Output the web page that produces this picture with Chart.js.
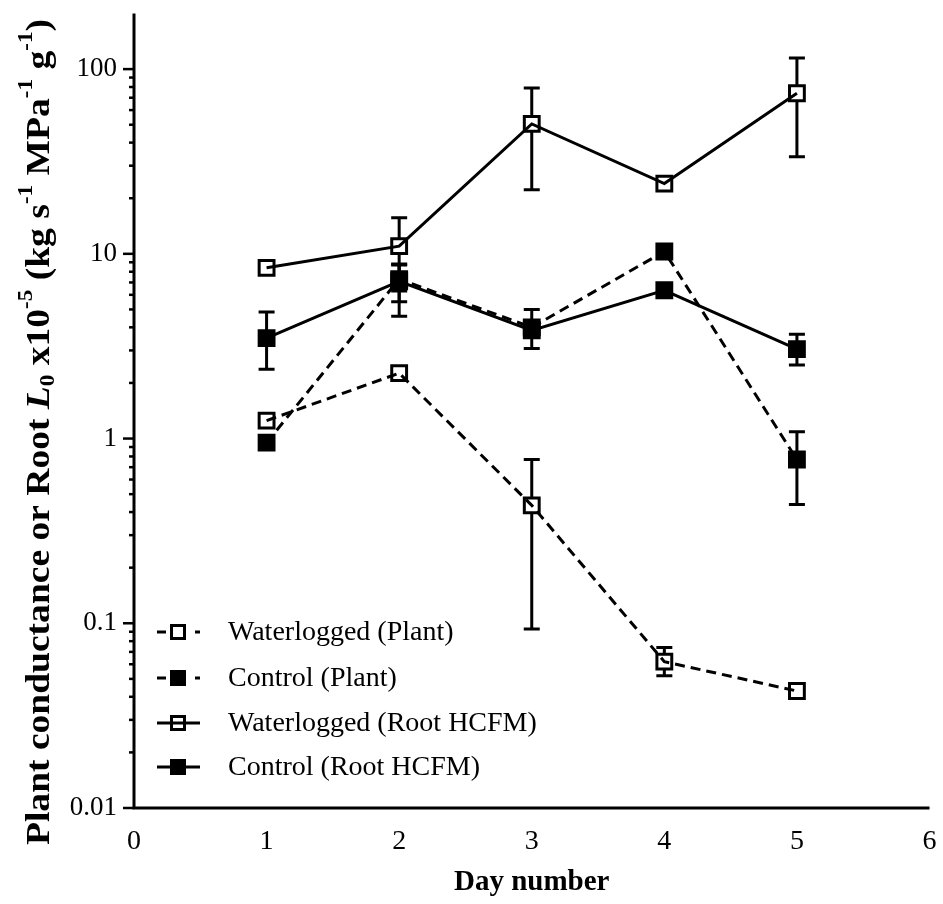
<!doctype html>
<html lang="en">
<head>
<meta charset="utf-8">
<title>Plant and root conductance</title>
<script src="https://cdn.jsdelivr.net/npm/chart.js@4.4.0/dist/chart.umd.min.js"></script>
<style>
  html, body { margin: 0; padding: 0; background: #fff; }
</style>
</head>
<body>
<canvas id="canvas" width="943" height="904"></canvas>
<script>
// days and axis ticks
var days = [1, 2, 3, 4, 5];
var xTicks = [0, 1, 2, 3, 4, 5, 6];
var yDecades = [0.01, 0.1, 1, 10, 100];

// Waterlogged (Plant)
var wlPlant   = [1.25, 2.26, 0.435, 0.062, 0.043];
var wlPlantLo = [null, null, 0.093, 0.052, null];
var wlPlantHi = [null, null, 0.77, 0.074, null];

// Control (Plant)
var ctPlant   = [0.95, 7.3, 4.0, 10.3, 0.77];
var ctPlantLo = [null, 4.6, null, null, 0.44];
var ctPlantHi = [null, 8.8, null, null, 1.09];

// Waterlogged (Root HCFM)
var wlRoot   = [8.4, 11.0, 50.5, 24.0, 74];
var wlRootLo = [null, 6.3, 22.2, null, 33.5];
var wlRootHi = [null, 15.7, 79, null, 115];

// Control (Root HCFM)
var ctRoot   = [3.5, 7.1, 3.85, 6.35, 3.05];
var ctRootLo = [2.37, 5.5, 3.07, null, 2.5];
var ctRootHi = [4.85, 8.7, 5.0, null, 3.67];

var series = [
  { label: 'Waterlogged (Plant)',      values: wlPlant, lo: wlPlantLo, hi: wlPlantHi, dashed: true,  open: true },
  { label: 'Control (Plant)',          values: ctPlant, lo: ctPlantLo, hi: ctPlantHi, dashed: true,  open: false },
  { label: 'Waterlogged (Root HCFM)',  values: wlRoot,  lo: wlRootLo,  hi: wlRootHi,  dashed: false, open: true },
  { label: 'Control (Root HCFM)',      values: ctRoot,  lo: ctRootLo,  hi: ctRootHi,  dashed: false, open: false }
];

var SERIF = '"Liberation Serif", "Times New Roman", serif';
var DASH = [10, 6];

function pts(vals) {
  return days.map(function (d, i) { return { x: d, y: vals[i] }; });
}

// each series: a line on top, markers underneath (so lines show through open squares)
var datasets = [];
series.forEach(function (s) {
  datasets.push({
    label: s.label,
    data: pts(s.values),
    borderColor: '#000',
    borderWidth: 3,
    borderDash: s.dashed ? DASH : [],
    pointRadius: 0,
    fill: false,
    order: 0
  });
  datasets.push({
    label: s.label + ' markers',
    data: pts(s.values),
    showLine: false,
    pointStyle: 'rect',
    pointRadius: 10.5,
    pointBorderWidth: 3,
    pointBorderColor: '#000',
    pointBackgroundColor: s.open ? '#fff' : '#000',
    errLo: s.lo,
    errHi: s.hi,
    order: 1
  });
});

// error bars with caps, drawn beneath everything
var errorBars = {
  id: 'errorBars',
  beforeDatasetsDraw: function (chart) {
    var ctx = chart.ctx, xs = chart.scales.x, ys = chart.scales.y;
    ctx.save();
    ctx.strokeStyle = '#000';
    ctx.lineWidth = 3;
    chart.data.datasets.forEach(function (ds) {
      if (!ds.errLo) return;
      days.forEach(function (d, i) {
        var lo = ds.errLo[i], hi = ds.errHi[i];
        if (lo == null || hi == null) return;
        var x = xs.getPixelForValue(d);
        var y1 = ys.getPixelForValue(hi), y2 = ys.getPixelForValue(lo);
        ctx.beginPath();
        ctx.moveTo(x, y1); ctx.lineTo(x, y2);
        ctx.moveTo(x - 8, y1); ctx.lineTo(x + 8, y1);
        ctx.moveTo(x - 8, y2); ctx.lineTo(x + 8, y2);
        ctx.stroke();
      });
    });
    ctx.restore();
  }
};

// axis lines, log tick marks, y title and legend
var decorations = {
  id: 'decorations',
  afterDraw: function (chart) {
    var ctx = chart.ctx, a = chart.chartArea, ys = chart.scales.y;
    ctx.save();
    ctx.strokeStyle = '#000';
    ctx.fillStyle = '#000';

    // axes
    ctx.lineWidth = 3;
    ctx.beginPath();
    ctx.moveTo(a.left, a.top); ctx.lineTo(a.left, a.bottom);
    ctx.moveTo(a.left - 1.5, a.bottom); ctx.lineTo(a.right, a.bottom);
    ctx.stroke();

    // y ticks, long at decades
    ctx.lineWidth = 2.5;
    ys.ticks.forEach(function (t) {
      var y = ys.getPixelForValue(t.value);
      var len = t.major ? 11 : 5;
      ctx.beginPath();
      ctx.moveTo(a.left - len, y); ctx.lineTo(a.left, y);
      ctx.stroke();
    });

    drawYTitle(ctx);
    drawLegend(ctx);
    ctx.restore();
  }
};

function drawYTitle(ctx) {
  var big = 34, small = 21;
  var parts = [
    { t: 'Plant conductance or Root ', f: 'bold ' + big + 'px ' + SERIF, dy: 0 },
    { t: 'L', f: 'italic bold ' + big + 'px ' + SERIF, dy: 0 },
    { t: '0', f: 'bold ' + small + 'px ' + SERIF, dy: 9 },
    { t: ' x10', f: 'bold ' + big + 'px ' + SERIF, dy: 0 },
    { t: '-5', f: 'bold ' + small + 'px ' + SERIF, dy: -13 },
    { t: ' (kg s', f: 'bold ' + big + 'px ' + SERIF, dy: 0 },
    { t: '-1', f: 'bold ' + small + 'px ' + SERIF, dy: -13 },
    { t: ' MPa', f: 'bold ' + big + 'px ' + SERIF, dy: 0 },
    { t: '-1', f: 'bold ' + small + 'px ' + SERIF, dy: -13 },
    { t: ' g', f: 'bold ' + big + 'px ' + SERIF, dy: 0 },
    { t: '-1', f: 'bold ' + small + 'px ' + SERIF, dy: -13 },
    { t: ')', f: 'bold ' + big + 'px ' + SERIF, dy: 0 }
  ];
  var total = 0;
  parts.forEach(function (p) { ctx.font = p.f; p.w = ctx.measureText(p.t).width; total += p.w; });
  var target = 826;
  ctx.save();
  ctx.translate(40, 432);
  ctx.rotate(-Math.PI / 2);
  ctx.scale(target / total, 1);
  ctx.textBaseline = 'middle';
  ctx.textAlign = 'left';
  var x = -total / 2;
  parts.forEach(function (p) {
    ctx.font = p.f;
    ctx.fillText(p.t, x, p.dy);
    x += p.w;
  });
  ctx.restore();
}

function drawLegend(ctx) {
  var rowsY = [632, 678, 723, 767];
  var x0 = 157, x1 = 200, mx = 178;
  ctx.lineWidth = 3;
  ctx.font = '28px ' + SERIF;
  ctx.textBaseline = 'middle';
  ctx.textAlign = 'left';
  series.forEach(function (s, i) {
    var y = rowsY[i];
    ctx.beginPath();
    if (s.dashed) {
      ctx.moveTo(x0, y); ctx.lineTo(x0 + 9, y);
      ctx.moveTo(x1 - 5, y); ctx.lineTo(x1, y);
    } else {
      ctx.moveTo(x0, y); ctx.lineTo(x1, y);
    }
    ctx.stroke();
    if (s.open) {
      ctx.fillStyle = '#fff';
      ctx.fillRect(mx - 6.5, y - 6.5, 13, 13);
      ctx.strokeRect(mx - 6.5, y - 6.5, 13, 13);
      if (!s.dashed) {
        ctx.beginPath(); ctx.moveTo(mx - 6.5, y); ctx.lineTo(mx + 6.5, y); ctx.stroke();
      }
    } else {
      ctx.fillStyle = '#000';
      ctx.fillRect(mx - 8, y - 8, 16, 16);
    }
    ctx.fillStyle = '#000';
    ctx.fillText(s.label, 228, y + 1);
  });
}

var config = {
  type: 'line',
  data: { datasets: datasets },
  options: {
    responsive: false,
    animation: false,
    layout: { padding: { top: 11, right: 13, left: 0, bottom: 0 } },
    plugins: {
      legend: { display: false },
      tooltip: { enabled: false }
    },
    scales: {
      x: {
        type: 'linear',
        min: 0,
        max: 6,
        afterBuildTicks: function (scale) {
          scale.ticks = xTicks.map(function (v) { return { value: v }; });
        },
        ticks: {
          color: '#000',
          font: { family: SERIF, size: 28 },
          padding: 9,
          autoSkip: false,
          maxRotation: 0
        },
        grid: { display: false },
        border: { display: false },
        title: {
          display: true,
          text: 'Day number',
          color: '#000',
          font: { family: SERIF, size: 29, weight: 'bold' },
          padding: { top: 0, bottom: 4 }
        },
        afterFit: function (scale) {
          scale.height = 96;
          scale.paddingLeft = 0;
          scale.paddingRight = 0;
        }
      },
      y: {
        type: 'logarithmic',
        min: 0.01,
        max: 200,
        afterBuildTicks: function (scale) {
          var list = [];
          yDecades.forEach(function (d) {
            list.push({ value: d, major: true });
            if (d < 100) {
              for (var k = 2; k <= 9; k++) list.push({ value: +(d * k).toPrecision(3), major: false });
            }
          });
          scale.ticks = list;
        },
        ticks: {
          color: '#000',
          font: { family: SERIF, size: 27 },
          padding: 9,
          autoSkip: false,
          callback: function (value) {
            return yDecades.indexOf(value) >= 0 ? String(value) : '';
          }
        },
        grid: { display: false },
        border: { display: false },
        afterFit: function (scale) {
          scale.width = 134;
          scale.paddingTop = 0;
          scale.paddingBottom = 0;
        }
      }
    }
  },
  plugins: [errorBars, decorations]
};

window.myChart = new Chart(document.getElementById('canvas'), config);
</script>
</body>
</html>
